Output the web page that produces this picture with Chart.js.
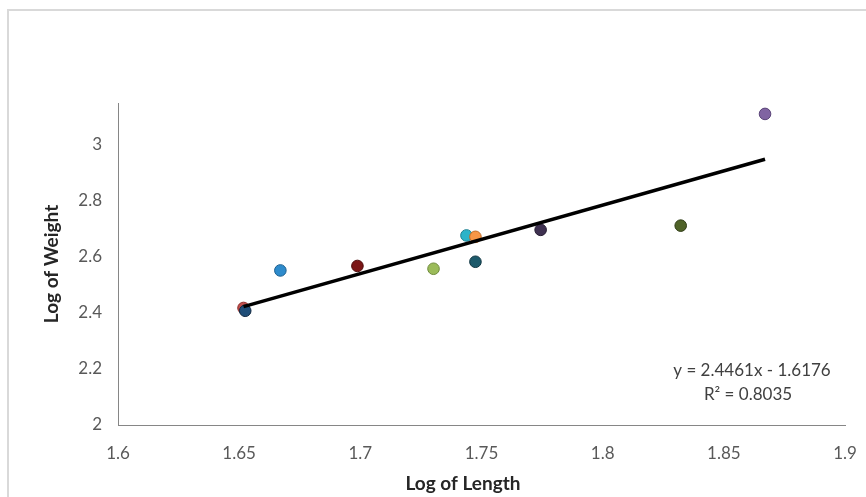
<!DOCTYPE html>
<html>
<head>
<meta charset="utf-8">
<script src="https://cdn.jsdelivr.net/npm/chart.js@4"></script>
<style>
    body { margin: 0; background: #fff; }
    #wrap { position: relative; width: 866px; height: 497px; overflow: hidden; }
    #frame { position: absolute; left: 7px; top: 9px; width: 900px; height: 540px; border-left: 2px solid #d9d9d9; border-top: 2px solid #d9d9d9; }
    canvas { position: absolute; left: 0; top: 0; }
</style>
</head>
<body>
<div id="wrap">
    <div id="frame"></div>
    <canvas id="chart-scatter" width="866" height="497"></canvas>
</div>
<script>
// log of length / log of weight, one point per sample
const logLength = [1.6518, 1.6525, 1.6670, 1.6988, 1.7302, 1.7438, 1.7475, 1.7475, 1.7744, 1.8322, 1.8670];
const logWeight = [2.418, 2.408, 2.552, 2.568, 2.558, 2.677, 2.672, 2.583, 2.697, 2.712, 3.111];
const pointColors = ["#c0504d", "#1f4e79", "#2e8bcc", "#7b1616", "#9bbb59", "#2bb3c9", "#f79646", "#1d5a6b", "#3f3151", "#4f6228", "#8064a2"];
const pointBorders = ["#8c2a28", "#0f2740", "#1c5f8f", "#4d0b0b", "#6e8a3a", "#1b7f90", "#c06a22", "#0e3440", "#241a30", "#2f3c16", "#5a4478"];

// trendline from the picture
const slope = 2.4461;
const intercept = -1.6176;
const rSquared = 0.8035;

const xTicks = [1.6, 1.65, 1.7, 1.75, 1.8, 1.85, 1.9];
const yTicks = [2, 2.2, 2.4, 2.6, 2.8, 3];

const xMin = Math.min(...logLength);
const xMax = Math.max(...logLength);
const trend = [
    { x: xMin, y: slope * xMin + intercept },
    { x: xMax, y: slope * xMax + intercept }
];

const font = "Lato";

const chartText = {
    id: "chartText",
    afterDatasetsDraw(chart) {
        const c = chart.ctx;
        const area = chart.chartArea;
        c.save();
        c.textAlign = "center";
        c.textBaseline = "middle";
        c.fillStyle = "#404040";
        c.font = "17px " + font;
        c.fillText("y = " + slope + "x - " + Math.abs(intercept), area.right - 93, area.bottom - 54);
        c.fillText("R² = " + rSquared, area.right - 97, area.bottom - 30);
        // x title sits a bit left of the plot centre
        c.fillStyle = "#262626";
        c.font = "bold 19px " + font;
        c.fillText("Log of Length", chart.width / 2 + 30, 484);
        c.restore();
    }
};

const ctx = document.getElementById("chart-scatter").getContext("2d");

new Chart(ctx, {
    type: "scatter",
    data: {
        datasets: [{
            type: "line",
            data: trend,
            borderColor: "#000",
            borderWidth: 3.5,
            pointRadius: 0,
            fill: false,
            order: 0
        }, {
            data: logLength.map((x, i) => ({ x: x, y: logWeight[i] })),
            backgroundColor: pointColors,
            borderColor: pointBorders,
            borderWidth: 1,
            pointRadius: 5.8,
            order: 1
        }]
    },
    options: {
        responsive: false,
        animation: false,
        layout: { padding: { top: 103, right: 21, left: 40, bottom: 2 } },
        plugins: { legend: { display: false }, tooltip: { enabled: false } },
        scales: {
            x: {
                type: "linear",
                min: 1.6,
                max: 1.9,
                grid: { display: false, drawTicks: false },
                border: { display: true, color: "#868686", width: 1 },
                afterBuildTicks: s => { s.ticks = xTicks.map(v => ({ value: v })); },
                afterFit: s => { s.height = 70; s.paddingLeft = 0; s.paddingRight = 0; },
                ticks: { color: "#595959", padding: 18, font: { family: font, size: 17 }, callback: v => String(v) },
                title: { display: false }
            },
            y: {
                min: 2,
                max: 3.15,
                grid: { display: false, drawTicks: false },
                border: { display: true, color: "#868686", width: 1 },
                afterBuildTicks: s => { s.ticks = yTicks.map(v => ({ value: v })); },
                afterFit: s => { s.width = 78; },
                ticks: { color: "#595959", padding: 16, font: { family: font, size: 17 }, callback: v => String(v) },
                title: { display: true, text: "Log of Weight", color: "#262626", font: { family: font, size: 19, weight: "bold" }, padding: 0 }
            }
        }
    },
    plugins: [chartText]
});
</script>
</body>
</html>
